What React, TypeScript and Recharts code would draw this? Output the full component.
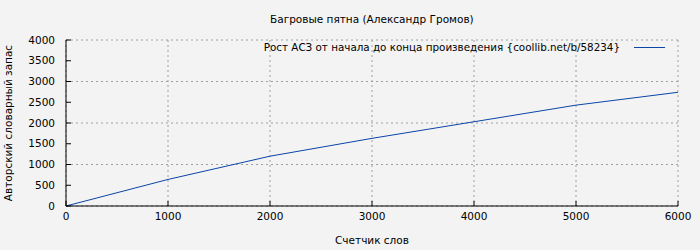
import React from 'react';
import { LineChart, Line, XAxis, YAxis, CartesianGrid, Legend } from 'recharts';

const words = [0, 1000, 2000, 3000, 4000, 5000, 6000];
const vocab = [0, 640, 1200, 1630, 2030, 2430, 2740];
const xTicks = [0, 1000, 2000, 3000, 4000, 5000, 6000];
const yTicks = [0, 500, 1000, 1500, 2000, 2500, 3000, 3500, 4000];

const TITLE = 'Багровые пятна (Александр Громов)';
const SERIES = 'Рост АСЗ от начала до конца произведения {coollib.net/b/58234}';

const FONT = '"DejaVu Sans", sans-serif';
const BLUE = '#0a45a8';

const data = words.map((w, i) => ({ words: w, vocab: vocab[i] }));

const LegendBox = () => (
  <div
    style={{
      display: 'flex',
      justifyContent: 'flex-end',
      alignItems: 'center',
      paddingRight: 35,
      fontFamily: FONT,
      fontSize: 10.35,
      color: '#000',
      height: 14,
    }}
  >
    <span>{SERIES}</span>
    <span style={{ display: 'inline-block', width: 31, height: 0, borderTop: `1px solid ${BLUE}`, marginLeft: 14 }} />
  </div>
);

const YTitle = () => (
  <text x={12} y={123} transform="rotate(-90 12 123)" textAnchor="middle" fontFamily={FONT} fontSize={10.5} fill="#000">
    Авторский словарный запас
  </text>
);

export default function App() {
  const tickStyle = { fontFamily: FONT, fontSize: 10.5, fill: '#000' };
  return (
    <div style={{ position: 'fixed', left: 0, top: 0, width: 700, height: 250, background: '#f3f3f3' }}>
      <div
        style={{
          position: 'absolute',
          top: 12,
          left: 270,
          width: 200,
          textAlign: 'center',
          whiteSpace: 'nowrap',
          fontFamily: FONT,
          fontSize: 10.5,
          lineHeight: '14px',
          color: '#000',
        }}
      >
        {TITLE}
      </div>
      <LineChart width={700} height={250} data={data} margin={{ top: 40, right: 22, bottom: 0, left: 0 }}>
        <CartesianGrid
          xAxisId="bottom"
          yAxisId="left"
          stroke="#a0a0a0"
          strokeDasharray="2 3"
          horizontalValues={yTicks}
          verticalValues={xTicks}
        />
        <XAxis
          xAxisId="bottom"
          dataKey="words"
          type="number"
          domain={[0, 6000]}
          ticks={xTicks}
          height={44}
          tickSize={-5}
          tickMargin={12}
          stroke="#000"
          tick={tickStyle}
          label={{ value: 'Счетчик слов', position: 'insideBottom', offset: 6, style: { fontFamily: FONT, fontSize: 10.5, fill: '#000' } }}
        />
        <XAxis
          xAxisId="top"
          orientation="top"
          dataKey="words"
          type="number"
          domain={[0, 6000]}
          ticks={xTicks}
          height={0}
          tickSize={-5}
          stroke="#000"
          tick={false}
        />
        <YAxis
          yAxisId="left"
          type="number"
          domain={[0, 4000]}
          ticks={yTicks}
          width={66}
          tickSize={-5}
          tickMargin={16}
          stroke="#000"
          tick={tickStyle}
          label={{ content: () => <YTitle /> }}
        />
        <YAxis
          yAxisId="right"
          orientation="right"
          type="number"
          domain={[0, 4000]}
          ticks={yTicks}
          width={0}
          tickSize={-5}
          stroke="#000"
          tick={false}
        />
        <Legend
          layout="horizontal"
          verticalAlign="middle"
          content={() => <LegendBox />}
          wrapperStyle={{ position: 'absolute', top: 40, left: 0, width: 700 }}
        />
        <Line
          xAxisId="bottom"
          yAxisId="left"
          type="linear"
          dataKey="vocab"
          stroke={BLUE}
          strokeWidth={1}
          dot={false}
          isAnimationActive={false}
        />
      </LineChart>
    </div>
  );
}
